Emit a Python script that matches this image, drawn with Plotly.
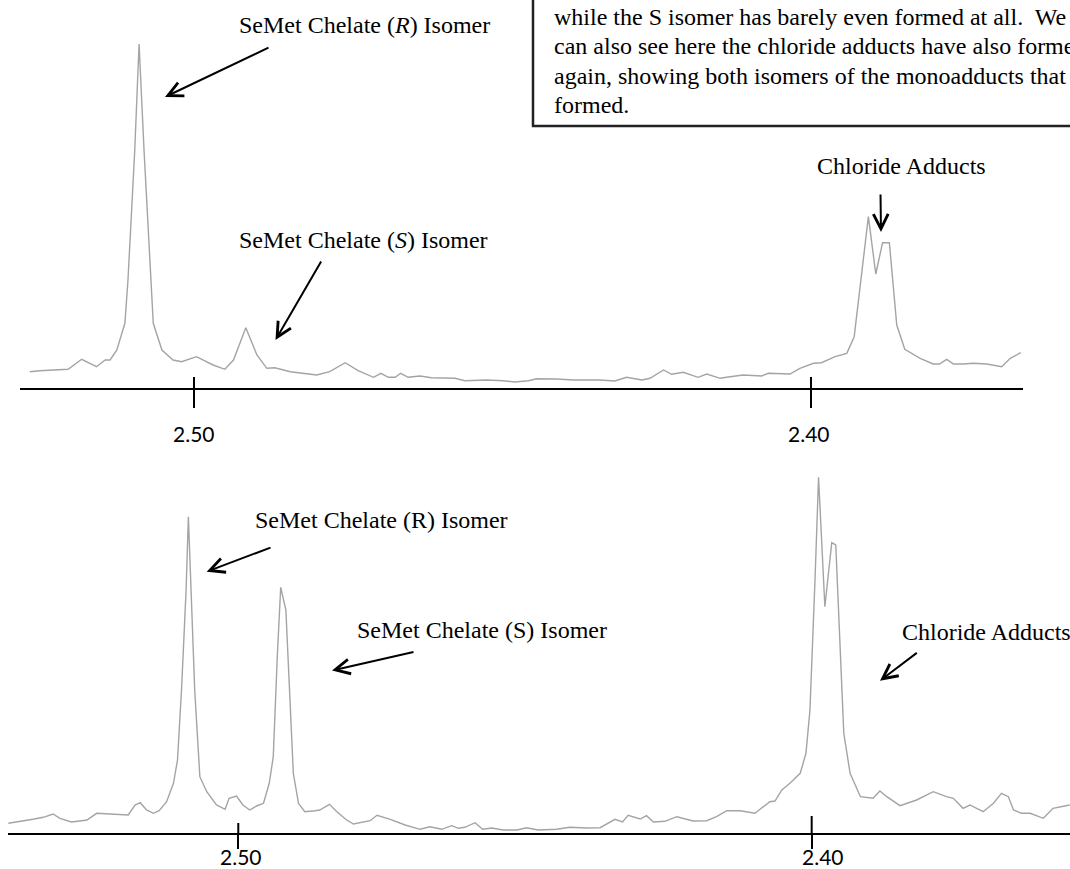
import plotly.graph_objects as go

# ---------------- data ----------------
# upper spectrum: chemical shift (ppm) and intensity (a.u.)
top_ppm = [2.5266, 2.5250, 2.5204, 2.5182, 2.5158, 2.5144, 2.5136, 2.5125, 2.5112, 2.5107,
           2.5096, 2.5089, 2.5081, 2.5069, 2.5066, 2.5052, 2.5034, 2.5020, 2.4996, 2.4969,
           2.4950, 2.4936, 2.4916, 2.4898, 2.4882, 2.4869, 2.4844, 2.4801, 2.4780, 2.4755,
           2.4734, 2.4709, 2.4697, 2.4685, 2.4674, 2.4665, 2.4653, 2.4634, 2.4615, 2.4577,
           2.4561, 2.4526, 2.4499, 2.4480, 2.4458, 2.4445, 2.4412, 2.4385, 2.4342, 2.4318,
           2.4299, 2.4274, 2.4261, 2.4239, 2.4226, 2.4207, 2.4183, 2.4169, 2.4147, 2.4137,
           2.4110, 2.4080, 2.4069, 2.4034, 2.4018, 2.3996, 2.3983, 2.3961, 2.3942, 2.3930,
           2.3907, 2.3895, 2.3884, 2.3873, 2.3861, 2.3848, 2.3823, 2.3802, 2.3792, 2.3780,
           2.3769, 2.3753, 2.3737, 2.3715, 2.3691, 2.3677, 2.3660]
top_int = [16.3, 17.3, 18.7, 28.7, 21.3, 28, 28, 38, 64.7, 108,
           238, 344, 238, 108, 64.7, 38, 28, 26.3, 31.3, 23,
           18.7, 28, 60.3, 33, 19.7, 20.3, 16.3, 13, 16.3, 25.3,
           17.3, 10.7, 14.7, 10.7, 10.7, 14.7, 10.7, 12, 10.3, 9.7,
           7.3, 8, 7.3, 6, 7.3, 9.3, 9, 8, 8, 7,
           10.7, 8, 9.7, 18, 13.7, 15.7, 10.7, 14, 9.7, 10.7,
           13, 12, 14.7, 14, 19.7, 24.7, 25.3, 31.3, 34.7, 51.3,
           171.3, 114, 145.3, 145.3, 63, 38.7, 29.7, 24, 24, 28.7,
           24, 24, 24.7, 24, 21.3, 29.7, 35.3]

# lower spectrum
bot_ppm = [2.5401, 2.5381, 2.5358, 2.5340, 2.5323, 2.5311, 2.5291, 2.5273, 2.5264, 2.5247,
           2.5224, 2.5192, 2.5180, 2.5171, 2.5160, 2.5148, 2.5138, 2.5125, 2.5113, 2.5106,
           2.5099, 2.5091, 2.5087, 2.5083, 2.5076, 2.5067, 2.5055, 2.5038, 2.5023, 2.5016,
           2.5003, 2.4992, 2.4980, 2.4968, 2.4956, 2.4946, 2.4939, 2.4932, 2.4926, 2.4917,
           2.4910, 2.4904, 2.4895, 2.4884, 2.4866, 2.4858, 2.4841, 2.4828, 2.4811, 2.4799,
           2.4770, 2.4758, 2.4735, 2.4709, 2.4683, 2.4666, 2.4645, 2.4628, 2.4616, 2.4605,
           2.4587, 2.4574, 2.4558, 2.4538, 2.4514, 2.4497, 2.4477, 2.4445, 2.4422, 2.4392,
           2.4369, 2.4358, 2.4343, 2.4330, 2.4320, 2.4299, 2.4288, 2.4276, 2.4256, 2.4235,
           2.4207, 2.4183, 2.4166, 2.4148, 2.4125, 2.4099, 2.4084, 2.4073, 2.4064, 2.4052,
           2.4038, 2.4020, 2.4010, 2.4003, 2.3994, 2.3988, 2.3977, 2.3965, 2.3958, 2.3951,
           2.3944, 2.3933, 2.3915, 2.3893, 2.3881, 2.3869, 2.3846, 2.3817, 2.3788, 2.3765,
           2.3753, 2.3736, 2.3724, 2.3701, 2.3683, 2.3669, 2.3657, 2.3648, 2.3634, 2.3619,
           2.3596, 2.3579, 2.3550]
bot_int = [9.7, 11.3, 13.7, 15.7, 19, 14.7, 11, 12.3, 13, 19.7,
           19, 18, 28, 30.3, 23, 19.7, 22.3, 31.3, 49.7, 73,
           143, 243, 316.3, 259.7, 143, 56.3, 41.3, 28, 23.7, 34.7,
           37, 28, 23, 27, 29.7, 49.7, 76.3, 176.3, 245.7, 223,
           126.3, 59.7, 29.7, 21.3, 22.3, 23, 28.7, 21.3, 13, 9,
           12.3, 17.7, 13.7, 8, 3.7, 6.3, 3.7, 7.3, 4.7, 5.7,
           10.3, 3.7, 5, 3, 3, 5.3, 3, 3.7, 5.7, 5,
           5.3, 9, 13.7, 11, 17.7, 14, 17.3, 11, 11.7, 16.3,
           12, 12.3, 16.3, 22.3, 22.3, 19.7, 26.3, 31.3, 32, 43,
           49.7, 59.7, 79.7, 123, 256.3, 355.7, 226.3, 290.3, 288, 189.7,
           99.7, 59.7, 36.3, 34.7, 42, 36.3, 27.3, 33, 41.3, 36.3,
           34.7, 24.7, 28, 21.3, 29.7, 39.7, 36.3, 23, 19.7, 19.7,
           14.7, 24.7, 28]

tick_vals = [2.50, 2.40]
tick_labels = ["2.50", "2.40"]

top_labels = ["SeMet Chelate (<i>R</i>) Isomer",
              "SeMet Chelate (<i>S</i>) Isomer",
              "Chloride Adducts"]
bot_labels = ["SeMet Chelate (R) Isomer",
              "SeMet Chelate (S) Isomer",
              "Chloride Adducts"]
note_lines = ["while the S isomer has barely even formed at all.&nbsp; We",
              "can also see here the chloride adducts have also formed",
              "again, showing both isomers of the monoadducts that",
              "formed."]

# ---------------- layout helpers ----------------
W, H = 1070, 869


def px(x):
    return x / W


def py(y):
    return 1 - y / H


SERIF = "Liberation Serif, Times New Roman, serif"
SANS = "Lato, Open Sans, sans-serif"
LINE_COLOR = "#a4a4a4"
FS = 24

fig = go.Figure()
fig.add_trace(go.Scatter(x=top_ppm, y=top_int, mode="lines", xaxis="x", yaxis="y",
                         line=dict(color=LINE_COLOR, width=1.4), hoverinfo="skip"))
fig.add_trace(go.Scatter(x=bot_ppm, y=bot_int, mode="lines", xaxis="x2", yaxis="y2",
                         line=dict(color=LINE_COLOR, width=1.4), hoverinfo="skip"))

axis_common = dict(showline=True, linecolor="black", linewidth=2, ticks="outside",
                   tickwidth=2, tickcolor="black", tickvals=tick_vals,
                   showticklabels=False, showgrid=False, zeroline=False, fixedrange=True)

fig.update_layout(
    width=W, height=H, margin=dict(l=0, r=0, t=0, b=0),
    paper_bgcolor="white", plot_bgcolor="white", showlegend=False,
    xaxis=dict(domain=[px(20), px(1023)], range=[2.5282, 2.36564], anchor="y",
               ticklen=18, **axis_common),
    yaxis=dict(domain=[py(388), 1.0], range=[0, 388], visible=False, fixedrange=True),
    xaxis2=dict(domain=[px(8), 1.0], range=[2.54016, 2.35495], anchor="y2",
                ticklen=14, **axis_common),
    yaxis2=dict(domain=[py(833), py(440)], range=[0, 393], visible=False, fixedrange=True),
)

# upper part of the ticks (they cross the axis line)
tick_up = {"y": [11, 11], "y2": [10, 17]}
for yref, xref in (("y", "x"), ("y2", "x2")):
    for v, up in zip(tick_vals, tick_up[yref]):
        fig.add_shape(type="line", xref=xref, yref=yref, x0=v, x1=v, y0=0, y1=up,
                      line=dict(color="black", width=2))

# tick labels (placed under each axis, at the tick value)
label_y = {"x": 433, "x2": 856}
label_shift = {"x": [0, -2], "x2": [3, 11]}
for xref in ("x", "x2"):
    for v, t, sh in zip(tick_vals, tick_labels, label_shift[xref]):
        fig.add_annotation(x=v, y=py(label_y[xref]), xref=xref, yref="paper", text=t,
                           showarrow=False, xshift=sh, xanchor="center", yanchor="middle",
                           font=dict(family=SANS, size=21, color="black"))

# peak labels (centre positions in pixels)
top_pos = [(364, 25, "center"), (363, 240, "center"), (901, 166, "center")]
bot_pos = [(381, 520, "center"), (482, 630, "center"), (900, 632, "left")]
for texts, pos in ((top_labels, top_pos), (bot_labels, bot_pos)):
    for t, (x, y, anc) in zip(texts, pos):
        fig.add_annotation(x=px(x), y=py(y), xref="paper", yref="paper", text=t,
                           showarrow=False, xanchor=anc, yanchor="middle",
                           font=dict(family=SERIF, size=FS, color="black"))

# hand-drawn style arrows: (tail x, tail y, tip x, tip y) in pixels
arrows = [(270, 47, 165, 97), (322, 260, 275.5, 340), (880.5, 193, 881, 232),
          (272, 547, 206.7, 571.7), (415, 651.7, 332, 670.5), (918.3, 651.7, 880, 680.7)]
for tx, ty, hx, hy in arrows:
    fig.add_annotation(x=px(hx), y=py(hy), xref="paper", yref="paper", text="",
                       showarrow=True, axref="pixel", ayref="pixel",
                       ax=tx - hx, ay=ty - hy, arrowhead=5, arrowsize=1.45,
                       arrowwidth=2, arrowcolor="black", standoff=0, startstandoff=0)

# comment box in the top-right corner (cut by the page edge)
fig.add_shape(type="rect", xref="paper", yref="paper", x0=px(533), x1=1.05,
              y0=py(126), y1=1.05, line=dict(color="#222222", width=2.5))
for i, t in enumerate(note_lines):
    fig.add_annotation(x=px(552), y=py(17 + 29.3 * i), xref="paper", yref="paper",
                       text=t, showarrow=False, xanchor="left", yanchor="middle",
                       font=dict(family=SERIF, size=FS, color="black"))

fig.write_html("out.html", config={"displayModeBar": False},
               post_script="document.body.style.margin='0';"
                           "document.body.style.overflow='hidden';")
